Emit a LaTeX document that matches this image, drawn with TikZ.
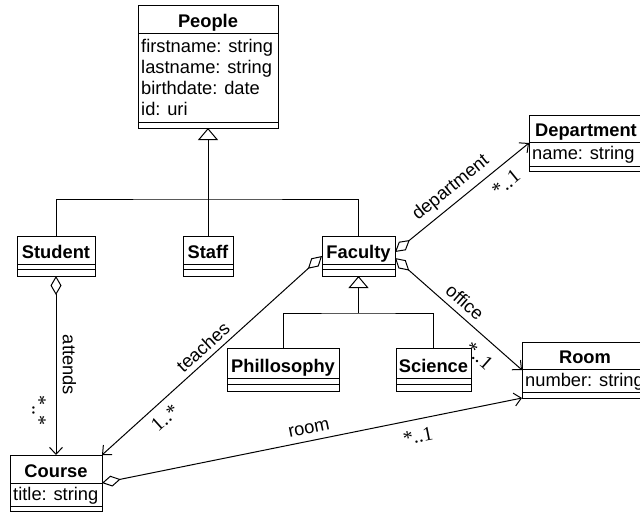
\documentclass[tikz,border=0pt]{standalone}
\usepackage{fontspec}
\setsansfont{Liberation Sans}
\newfontfamily\multfont{Liberation Serif}
\usetikzlibrary{arrows.meta}

\tikzset{
  box/.style={draw, line width=1pt, inner sep=0pt, outer sep=0pt, fill=white},
  ctitle/.style={font=\sffamily\bfseries\fontsize{18.3}{21}\selectfont, anchor=base, inner sep=0pt},
  cattr/.style={font=\sffamily\fontsize{18.3}{21}\selectfont, anchor=base west, inner sep=0pt},
  rolelbl/.style={font=\sffamily\fontsize{18.3}{21}\selectfont, inner sep=0pt},
  mult/.style={font=\multfont\fontsize{20}{22}\selectfont, inner sep=0pt},
  conn/.style={line width=1pt},
  assoc/.style={conn, {Diamond[open,length=19pt,width=11pt]}-{Straight Barb[length=7pt,width=13pt]}},
  gen/.style={conn, -{Triangle[open,length=12pt,width=20pt]}},
}

% class box: name, left, top, right, bottom, title rule, attribute rule, title
\newcommand\umlclass[8]{%
  \node[box, minimum width={#4-#2}, minimum height={#5-#3}] (#1) at ({(#2+#4)/2},{(#3+#5)/2}) {};
  \draw[conn] (#2,#6) -- (#4,#6) (#2,#7) -- (#4,#7);
  \node[ctitle] (#1-title) at ({(#2+#4)/2},{#6-6}) {#8};
}

\begin{document}
\begin{tikzpicture}[x=1pt,y=-1pt]
\useasboundingbox (0,0) rectangle (640,512);

% classes
\umlclass{people}{138}{5}{278}{128}{33}{122}{People}
\node[cattr] (people-a1) at (141,52) {firstname: string};
\node[cattr] (people-a2) at (141,73) {lastname: string};
\node[cattr] (people-a3) at (141,94) {birthdate: date};
\node[cattr] (people-a4) at (141,115) {id: uri};

\umlclass{dept}{529}{115}{643}{171}{142}{166}{Department}
\node[cattr] (dept-a1) at (532,159) {name: string};

\umlclass{student}{17}{236}{95}{276}{264}{269}{Student}
\umlclass{staff}{183}{236}{233}{276}{264}{269}{Staff}
\umlclass{faculty}{322}{236}{395}{276}{264}{269}{Faculty}

\umlclass{phil}{227}{348}{339}{391}{378}{384}{Phillosophy}
\umlclass{sci}{396}{348}{471}{391}{378}{384}{Science}

\umlclass{room}{522}{342}{648}{398}{369}{392}{Room}
\node[cattr] (room-a1) at (525,386) {number: string};

\umlclass{course}{10}{455}{102}{511}{483}{506}{Course}
\node[cattr] (course-a1) at (13,500) {title: string};

% generalisation: People
\coordinate (hub) at (208,199);
\draw[gen] (staff.north) -- (people.south);
\draw[conn] (student.north) |- (hub) -| (faculty.north);

% generalisation: Faculty
\coordinate (hub2) at (358.5,313);
\draw[gen] (hub2) -- (faculty.south);
\draw[conn] (phil.north) |- (hub2) -| (sci.north);

% associations
\draw[assoc] (student.south) -- (course.north);
\node[rolelbl, rotate=-90] (l-attends) at (69.5,365) {attends};
\node[mult, rotate=-90] (m-attends) at (39,410) {*..*};

\draw[assoc] (faculty.west) -- (course.north east);
\node[rolelbl, rotate=42.1] (l-teaches) at (203,347) {teaches};
\node[mult, rotate=42.1] (m-teaches) at (165,418) {1..*};

\draw[assoc] ([yshift=4pt]faculty.east) -- (dept.west);
\node[rolelbl, rotate=39.1] (l-dept) at (451,188) {department};
\node[mult, rotate=39.1] (m-dept) at (506,183) {*..1};

\draw[assoc] ([yshift=-2pt]faculty.east) -- (room.west);
\node[rolelbl, rotate=-41.4] (l-office) at (465,302) {office};
\node[mult, rotate=-41.4] (m-office) at (479,356) {*..1};

\draw[assoc] (course.east) -- (room.south west);
\node[rolelbl, rotate=11.4] (l-room) at (309,429) {room};
\node[mult, rotate=11.4] (m-room) at (418,436) {*..1};

\end{tikzpicture}
\end{document}
